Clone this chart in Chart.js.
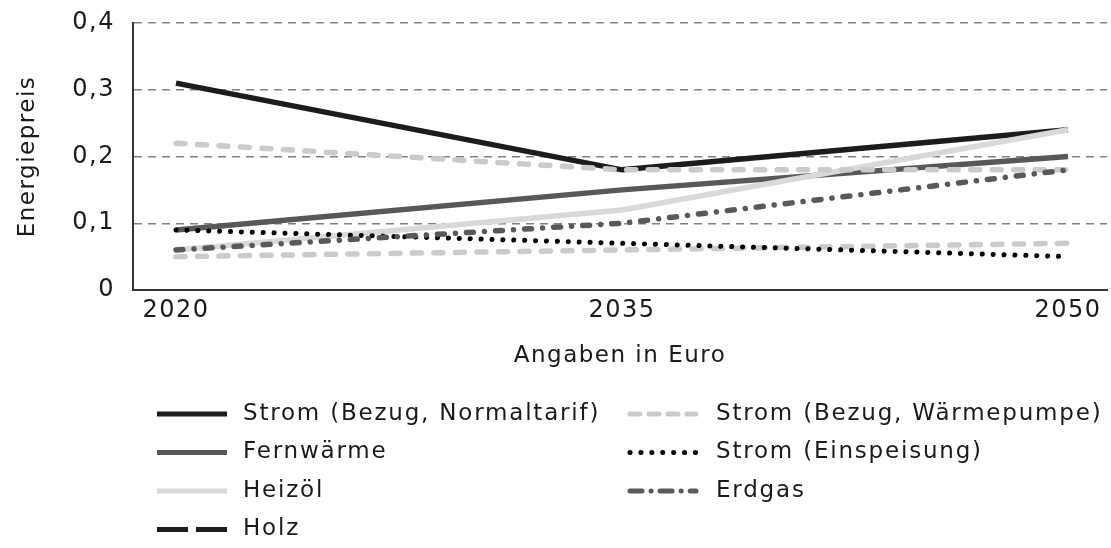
<!DOCTYPE html>
<html>
<head>
<meta charset="utf-8">
<script src="https://cdn.jsdelivr.net/npm/chart.js@4/dist/chart.umd.min.js"></script>
<style>
  html, body { margin: 0; padding: 0; background: #fff; }
  #wrap { width: 1111px; height: 548px; }
</style>
</head>
<body>
<div id="wrap"><canvas id="grafico" width="1111" height="548"></canvas></div>
<script>
// Daten
const jahre = [2020, 2035, 2050];
const stromNormal = [0.31, 0.18, 0.24];
const fernwaerme = [0.09, 0.15, 0.20];
const heizoel = [0.06, 0.12, 0.24];
const holz = [0.05, 0.06, 0.07];
const stromWaermepumpe = [0.22, 0.18, 0.18];
const stromEinspeisung = [0.09, 0.07, 0.05];
const erdgas = [0.06, 0.10, 0.18];
const yTicks = [0, 0.1, 0.2, 0.3, 0.4];

const schrift = 'DejaVu Sans';
const textFarbe = '#1a1a1a';

function punkte(werte) {
    return werte.map((v, i) => ({ x: jahre[i], y: v }));
}

// etwas Buchstabenabstand wie im Original
const abstandPlugin = {
    id: 'abstand',
    beforeLayout(chart) { chart.ctx.letterSpacing = '1.5px'; },
    beforeDraw(chart) { chart.ctx.letterSpacing = '1.5px'; }
};

// Legende: Spalte 1 = erste vier, Spalte 2 = Rest
const legendePlugin = {
    id: 'legende',
    afterDraw(chart) {
        const ctx = chart.ctx;
        const zeilen = [414, 452.5, 491, 529.5];
        const spalten = [{ von: 157, bis: 227, text: 243 }, { von: 630, bis: 696, text: 716 }];
        ctx.save();
        ctx.font = '23px "' + schrift + '"';
        ctx.letterSpacing = '1.8px';
        ctx.textBaseline = 'middle';
        chart.data.datasets.forEach((ds, i) => {
            const sp = spalten[i < 4 ? 0 : 1];
            const y = zeilen[i % 4];
            const look = ds.legende || {};
            ctx.beginPath();
            ctx.lineWidth = 5;
            ctx.strokeStyle = look.farbe || ds.borderColor;
            ctx.lineCap = look.cap || ds.borderCapStyle || 'butt';
            ctx.setLineDash(look.dash || ds.borderDash || []);
            ctx.moveTo(sp.von, y);
            ctx.lineTo(sp.bis, y);
            ctx.stroke();
            ctx.setLineDash([]);
            ctx.fillStyle = textFarbe;
            ctx.fillText(ds.label, sp.text, y);
        });
        ctx.restore();
    }
};

const grafico = document.getElementById('grafico');
const chart = new Chart(grafico, {
    type: 'line',
    data: {
        datasets: [
            { label: 'Strom (Bezug, Normaltarif)', data: punkte(stromNormal), borderColor: '#1c1c1c', borderWidth: 5.5, order: 6 },
            { label: 'Fernwärme', data: punkte(fernwaerme), borderColor: '#585858', borderWidth: 5.5, order: 5 },
            { label: 'Heizöl', data: punkte(heizoel), borderColor: '#d9d9d9', borderWidth: 5.5, order: 4 },
            { label: 'Holz', data: punkte(holz), borderColor: '#cbcbcb', borderWidth: 5.5, borderDash: [9, 12.5], borderCapStyle: 'round', order: 3,
              legende: { farbe: '#1c1c1c', dash: [31, 8], cap: 'butt' } },
            { label: 'Strom (Bezug, Wärmepumpe)', data: punkte(stromWaermepumpe), borderColor: '#cbcbcb', borderWidth: 5.5, borderDash: [9, 12.5], borderCapStyle: 'round', order: 2,
              legende: { dash: [10, 9], cap: 'round' } },
            { label: 'Strom (Einspeisung)', data: punkte(stromEinspeisung), borderColor: '#000000', borderWidth: 5, borderDash: [0.1, 10.8], borderCapStyle: 'round', order: 1,
              legende: { dash: [0.1, 10.8], cap: 'round' } },
            { label: 'Erdgas', data: punkte(erdgas), borderColor: '#595959', borderWidth: 5.5, borderDash: [7, 11, 0.1, 11], borderCapStyle: 'round', order: 0,
              legende: { dash: [12, 9, 0.1, 9], cap: 'round' } }
        ]
    },
    options: {
        responsive: false,
        animation: false,
        layout: { padding: { top: 23, right: 4, bottom: 178, left: 0 } },
        elements: { point: { radius: 0 }, line: { tension: 0, fill: false } },
        plugins: { legend: { display: false }, tooltip: { enabled: false } },
        scales: {
            x: {
                type: 'linear',
                min: 2018.554,
                max: 2051.312,
                afterBuildTicks: s => { s.ticks = jahre.map(v => ({ value: v })); },
                afterFit: s => { s.height = 80; s.paddingLeft = 0; s.paddingRight = 0; },
                grid: { display: false, drawTicks: false },
                border: { display: true, color: '#333', width: 2 },
                ticks: {
                    color: textFarbe,
                    font: { family: schrift, size: 24 },
                    padding: 6,
                    maxRotation: 0,
                    callback: v => String(v)
                },
                title: {
                    display: true,
                    text: 'Angaben in Euro',
                    color: textFarbe,
                    font: { family: schrift, size: 23 },
                    padding: { top: 12, bottom: 0 }
                }
            },
            y: {
                min: 0,
                max: 0.4,
                afterBuildTicks: s => { s.ticks = yTicks.map(v => ({ value: v })); },
                afterFit: s => { s.width = 133; s.paddingTop = 0; s.paddingBottom = 0; },
                grid: { color: '#808080', lineWidth: 1.5, drawTicks: false },
                border: { display: true, color: '#333', width: 2, dash: [8, 6] },
                ticks: {
                    color: textFarbe,
                    font: { family: schrift, size: 24 },
                    padding: 18,
                    callback: v => v === 0 ? '0' : v.toFixed(1).replace('.', ',')
                },
                title: {
                    display: true,
                    text: 'Energiepreis',
                    color: textFarbe,
                    font: { family: schrift, size: 23 },
                    padding: { top: 14 }
                }
            }
        }
    },
    plugins: [abstandPlugin, legendePlugin]
});
</script>
</body>
</html>
